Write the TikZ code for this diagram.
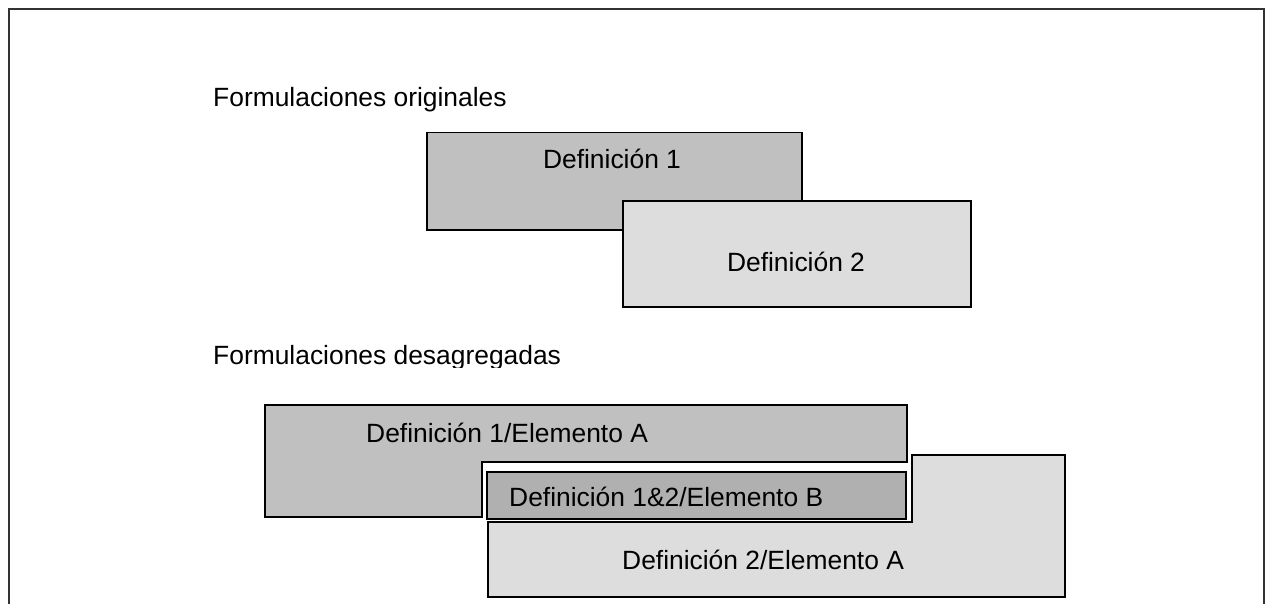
\documentclass[tikz,border=0pt]{standalone}
\usepackage{fontspec}
\setmainfont{Liberation Sans}
\definecolor{gmid}{RGB}{192,192,192}
\definecolor{glight}{RGB}{221,221,221}
\definecolor{gdark}{RGB}{176,176,176}
\begin{document}
\begin{tikzpicture}[x=1pt,y=-1pt,
  boxline/.style={draw=black,line width=1.5pt},
  lbl/.style={inner sep=0pt,font=\fontsize{26.4}{30}\selectfont},
  defbox/.style={boxline,rectangle,inner sep=0pt,anchor=north west}]
\useasboundingbox (0,0) rectangle (1265,604);
% outer frame (no bottom edge)
\draw[line width=1.8pt,color=black!80] (9,604) -- (9,9) -- (1264,9) -- (1264,604);
% headings
\node[lbl,anchor=base west] (h1) at (213,107) {Formulaciones originales};
\begin{scope}
\clip (0,0) rectangle (1265,367);
\node[lbl,anchor=base west] (h2) at (213,364) {Formulaciones desagregadas};
\end{scope}
% original formulations
\node[defbox,fill=gmid,minimum width=375pt,minimum height=97pt] (d1) at (426,132) {};
\node[lbl,anchor=base] (t1) at (612,168) {Definición 1};
\node[defbox,fill=glight,minimum width=348pt,minimum height=106pt] (d2) at (622,200) {};
\node[lbl,anchor=base] (t2) at (796,271) {Definición 2};
% disaggregated formulations
\draw[boxline,fill=gmid] (265,405) -- (907,405) -- (907,462) -- (482,462) -- (482,517) -- (265,517) -- cycle;
\node[lbl,anchor=base west] (t3) at (366,442) {Definición 1/Elemento A};
\node[defbox,fill=gdark,minimum width=419pt,minimum height=47pt] (db) at (486,471) {};
\node[lbl,anchor=base west] (t4) at (509,506) {Definición 1\&2/Elemento B};
\draw[boxline,fill=glight] (488,522) -- (912,522) -- (912,455) -- (1065,455) -- (1065,597) -- (488,597) -- cycle;
\node[lbl,anchor=base west] (t5) at (622,569) {Definición 2/Elemento A};
\end{tikzpicture}
\end{document}
